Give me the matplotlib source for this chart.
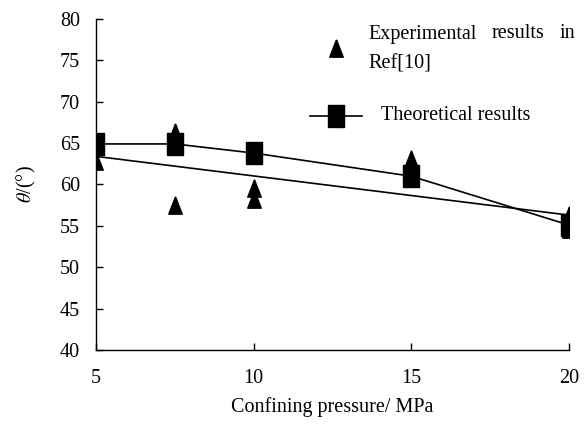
import matplotlib.pyplot as plt
from matplotlib.lines import Line2D

plt.rcParams['font.family'] = ['Liberation Serif', 'DejaVu Serif']
plt.rcParams['mathtext.fontset'] = 'stix'

# experimental results in Ref[10]
exp_p = [5, 7.5, 7.5, 10, 10, 15, 20, 20]
exp_theta = [62.8, 66.3, 57.5, 59.6, 58.2, 63.1, 56.3, 54.6]

# theoretical results
theo_p = [5, 7.5, 10, 15, 20]
theo_theta = [64.9, 64.9, 63.8, 61.0, 55.1]

# straight trend line through experimental data
trend_p = [5, 20]
trend_theta = [63.4, 56.3]

xticks = [5, 10, 15, 20]
yticks = [40, 45, 50, 55, 60, 65, 70, 75, 80]

FS = 14.5

# tall rectangle / tall triangle (picture is slightly stretched)
rect = [(-0.7, -1), (0.7, -1), (0.7, 1), (-0.7, 1), (-0.7, -1)]
tri = [(0, 1), (-0.78, -1), (0.78, -1), (0, 1)]

fig = plt.figure(figsize=(5.86, 4.25), dpi=100)
ax = fig.add_axes([0.1638, 0.1765, 0.8072, 0.7788])

ax.plot(trend_p, trend_theta, color='black', lw=1.2, zorder=2)
ax.plot(theo_p, theo_theta, color='black', lw=1.2, marker=rect,
        markersize=16.5, markerfacecolor='black', zorder=3)
ax.plot(exp_p, exp_theta, ls='none', marker=tri, markersize=12.5,
        color='black', zorder=2.5)

ax.set_xlim(5, 20)
ax.set_ylim(40, 80)
ax.set_xticks(xticks)
ax.set_yticks(yticks)
ax.tick_params(direction='in', length=5, width=1, labelsize=FS)
ax.tick_params(axis='y', pad=11.5)
ax.tick_params(axis='x', pad=14)
for s in ['top', 'right']:
    ax.spines[s].set_visible(False)
for s in ['left', 'bottom']:
    ax.spines[s].set_linewidth(1)

ax.set_xlabel('Confining pressure/ MPa', fontsize=FS, labelpad=6)
ax.set_ylabel(r'$\theta$/(°)', fontsize=FS, labelpad=16)

# legend, drawn by hand
fig.add_artist(Line2D([336 / 586], [1 - 48 / 425], marker=tri, markersize=12.5,
                      color='black', ls='none'))
words = [('Experimental', 368), ('results', 492), ('in', 560)]
for w, px in words:
    fig.text(px / 586, 1 - 34 / 425, w, fontsize=FS, va='center', ha='left')
fig.text(368 / 586, 1 - 64 / 425, 'Ref[10]', fontsize=FS, va='center', ha='left')
fig.add_artist(Line2D([310 / 586, 362 / 586], [1 - 116 / 425] * 2, color='black', lw=1.2))
fig.add_artist(Line2D([336 / 586], [1 - 116 / 425], marker=rect, markersize=16.5,
                      color='black', ls='none'))
fig.text(381 / 586, 1 - 116 / 425, 'Theoretical results', fontsize=FS,
         va='center', ha='left')

fig.savefig('out.png', dpi=100)
